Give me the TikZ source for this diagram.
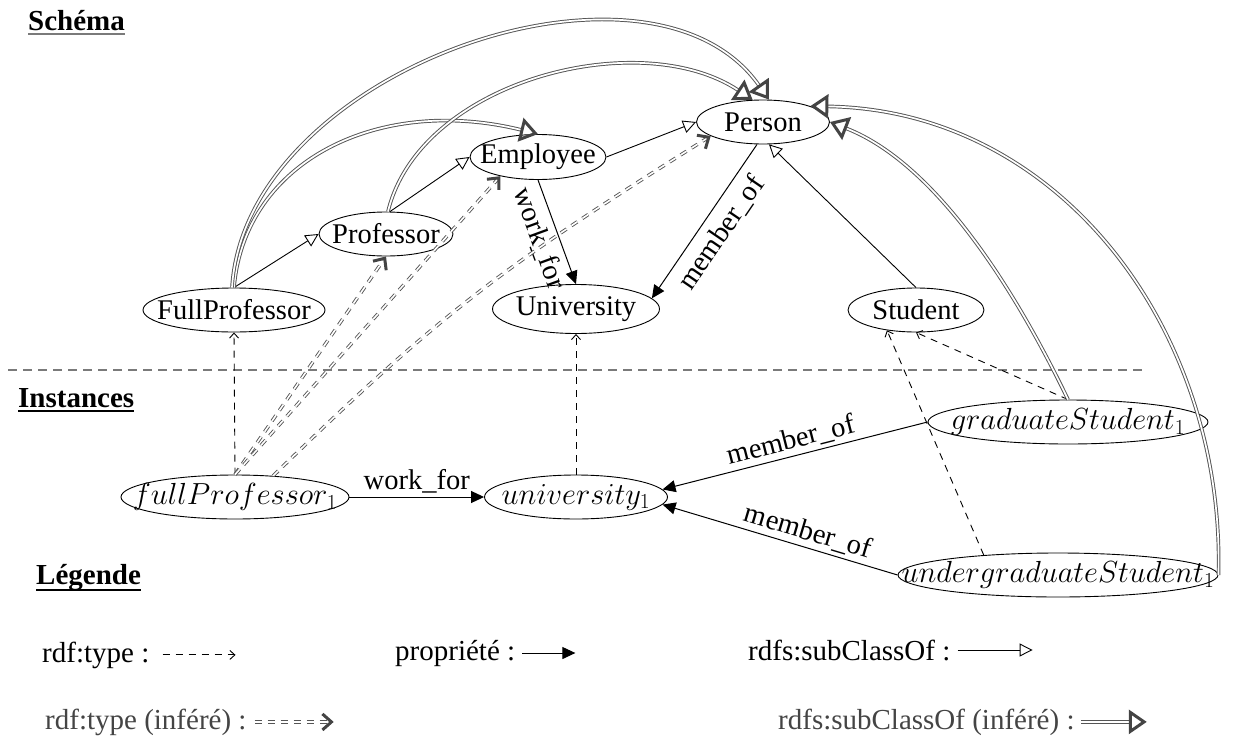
\RequirePackage{fix-cm}
\documentclass[tikz,border=0pt]{standalone}
\usepackage[no-math]{fontspec}
\setmainfont{Liberation Serif}
\usetikzlibrary{arrows.meta,shapes.geometric}
\definecolor{infc}{HTML}{444444}
\definecolor{infl}{HTML}{555555}
\definecolor{sepc}{HTML}{7A7A7A}
\newcommand{\zw}[1]{\makebox[0pt]{#1}}
\begin{document}
\begin{tikzpicture}[x=1pt,y=-1pt,
 cls/.style={ellipse, draw, line width=0.9pt, inner sep=0pt, minimum height=44pt, font=\fontsize{28.5}{34}\selectfont},
 inst/.style={cls, font=\fontsize{30.5}{36}\selectfont},
 sub/.style={line width=0.9pt, -{Triangle[open,length=13pt,width=13pt,line width=0.9pt]}},
 prop/.style={line width=1pt, -{Triangle[length=13pt,width=12pt]}},
 typ/.style={line width=0.9pt, dash pattern=on 7pt off 6pt, -{Straight Barb[length=5pt,width=9pt,line width=0.9pt]}},
 infsub/.style={draw=infl, line width=0.95pt, double=white, double distance=1.7pt, -{Triangle[open,length=18pt,width=24pt,line width=3pt,color=infc]}},
 inftyp/.style={draw=infl, line width=0.9pt, double=white, double distance=1.6pt, dash pattern=on 7pt off 6pt, -{Straight Barb[length=9pt,width=16pt,line width=3pt,color=infc]}},
 lbl/.style={font=\fontsize{28.5}{34}\selectfont},
 leg/.style={font=\fontsize{29}{35}\selectfont, anchor=base west, inner sep=0pt},
 head/.style={font=\fontsize{29}{35}\selectfont\bfseries, anchor=base west, inner sep=0pt}
]
\useasboundingbox (0,0) rectangle (1240,742);

% headings
\node[head] (hs) at (28,30) {Schéma};
\draw[sepc, line width=2pt] ([yshift=-4pt]hs.base west) -- ([yshift=-4pt]hs.base east);
\node[head] (hi) at (18,407) {Instances};
\draw[line width=1.5pt] ([yshift=-4pt]hi.base west) -- ([yshift=-4pt]hi.base east);
\node[head] (hl) at (36,584) {Légende};
\draw[line width=1.5pt] ([yshift=-6pt]hl.base west) -- ([yshift=-6pt]hl.base east);

% separator
\draw[sepc, line width=1.5pt, dash pattern=on 9pt off 6pt] (8,370) -- (1143,370);

% schema nodes
\node[cls, minimum width=133pt] (per) at (763,122) {\zw{Person}};
\node[cls, minimum width=136pt, minimum height=45pt] (emp) at (538,157) {\zw{Employee}};
\node[cls, minimum width=134pt] (prof) at (386,234) {\zw{Professor}};
\node[cls, minimum width=182pt] (fp) at (234,310) {\zw{FullProfessor}};
\node[cls, minimum width=167pt, minimum height=49pt] (uni) at (576,309) {\zw{University}};
\node[cls, minimum width=136pt] (stu) at (916,310) {\zw{Student}};

% instance nodes
\node[inst, minimum width=228pt] (fp1) at (235,497) {\zw{$fullProfessor_1$}};
\node[inst, minimum width=183pt] (u1) at (576,497) {\zw{$university_1$}};
\node[inst, minimum width=280pt] (gs1) at (1068,422) {\zw{$graduateStudent_1$}};
\node[inst, minimum width=320pt] (ugs1) at (1058,575) {\zw{$undergraduateStudent_1$}};

% schema subclass
\draw[sub] (emp.east) -- (per.west);
\draw[sub] (prof.80) -- (emp.west);
\draw[sub] (fp.north) -- (prof.west);
\draw[sub] (stu.north) -- (per.285);
\draw[prop] (emp.south) -- node[lbl, sloped, below=3pt] {work\_for} (uni.north);
\draw[prop] ([xshift=-6pt]per.south) -- node[lbl, sloped, below=5pt] {member\_of} (uni.8);

% instance properties
\draw[prop] (fp1.east) -- node[lbl, above] {work\_for} (u1.west);
\draw[prop] (gs1.west) -- node[lbl, sloped, above] {member\_of} (u1.5);
\draw[prop] (ugs1.west) -- node[lbl, sloped, above, pos=0.4] {member\_of} (u1.-5);

% rdf:type
\draw[typ] (fp1.north) -- (fp.south);
\draw[typ] (u1.north) -- (uni.south);
\draw[typ] (gs1.north) -- (stu.south);
\draw[typ] (ugs1.165) -- (stu.215);

% inferred rdf:type
\draw[inftyp] (fp1.north) -- (prof.south);
\draw[inftyp] (fp1.north) -- (emp.207);
\draw[inftyp] (fp1.29) .. controls (442,311) and (507,264) .. (per.195);

% inferred subclass
\draw[infsub] (fp.north) .. controls (245,160) and (380,95) .. (emp.north);
\draw[infsub] ([xshift=-2pt]fp.north) .. controls (245,70) and (650,-70) .. (per.75);
\draw[infsub] (prof.85) .. controls (420,80) and (640,25) .. (per.115);
\draw[infsub] (gs1.north) .. controls (1020,300) and (940,165) .. (per.east);
\draw[infsub] (ugs1.east) .. controls (1225,330) and (1060,110) .. (per.north east);

% legend
\node[leg] (l1) at (42,662) {rdf:type :};
\coordinate (l1e) at ([xshift=86pt]l1.east);
\draw[typ] ([xshift=13pt]l1.east) -- (l1e);
\node[leg] (l2) at (395,660) {propriété :};
\coordinate (l2e) at ([xshift=60pt]l2.east);
\draw[prop] ([xshift=7pt]l2.east) -- (l2e);
\node[leg] (l3) at (748,660) {rdfs:subClassOf :};
\coordinate (l3e) at ([xshift=82pt]l3.east);
\draw[sub] ([xshift=7pt]l3.east) -- (l3e);
\node[leg, text=infc] (l4) at (45,729) {rdf:type (inféré) :};
\coordinate (l4e) at ([xshift=87pt]l4.east);
\draw[inftyp] ([xshift=8pt]l4.east) -- (l4e);
\node[leg, text=infc] (l5) at (778,729) {rdfs:subClassOf (inféré) :};
\coordinate (l5e) at ([xshift=72pt]l5.east);
\draw[infsub] ([xshift=6pt]l5.east) -- (l5e);
\end{tikzpicture}
\end{document}
